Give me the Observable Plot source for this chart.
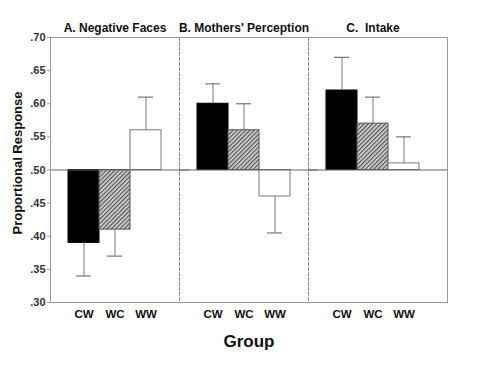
<!DOCTYPE html>
<html>
<head>
<meta charset="utf-8">
<script src="https://cdn.jsdelivr.net/npm/d3@7"></script>
<script src="https://cdn.jsdelivr.net/npm/@observablehq/plot@0.6"></script>
<style>
  html, body { margin: 0; padding: 0; background: #fff; }
  svg { font-family: "Liberation Sans", Arial, Helvetica, sans-serif; }
</style>
</head>
<body>
<div id="chart"></div>
<script>
const panels = ["A. Negative Faces", "B. Mothers' Perception", "C.  Intake"];
const groups = ["CW", "WC", "WW"];
const panelA = [0.39, 0.41, 0.56];
const panelB = [0.60, 0.56, 0.46];
const panelC = [0.62, 0.57, 0.51];
const errA = [0.34, 0.37, 0.61];
const errB = [0.63, 0.60, 0.405];
const errC = [0.67, 0.61, 0.55];
const yTicks = [0.30, 0.35, 0.40, 0.45, 0.50, 0.55, 0.60, 0.65, 0.70];
const baseline = 0.50;

const values = [panelA, panelB, panelC];
const errs = [errA, errB, errC];
const data = [];
panels.forEach((p, i) => groups.forEach((g, j) => {
  data.push({panel: p, group: g, value: values[i][j], err: errs[i][j]});
}));
const fills = {CW: "#000", WC: "url(#hatch)", WW: "#fff"};
const strokes = {CW: "#000", WC: "#555", WW: "#777"};

const chart = Plot.plot({
  width: 500,
  height: 368,
  marginLeft: 50,
  marginRight: 63,
  marginTop: 37,
  marginBottom: 66,
  fx: {domain: panels, padding: 0, label: null},
  x: {domain: groups, paddingInner: 0, paddingOuter: 0.56, label: null},
  y: {domain: [0.30, 0.70], label: null},
  marks: [
    Plot.frame({anchor: "left", stroke: "#888", strokeDasharray: "3,2"}),
    Plot.barY(data, {fx: "panel", x: "group", y1: baseline, y2: "value",
      fill: d => fills[d.group], stroke: d => strokes[d.group], strokeWidth: 1}),
    Plot.ruleX(data, {fx: "panel", x: "group", y1: "value", y2: "err", stroke: "#777", strokeWidth: 1}),
    Plot.tickY(data, {fx: "panel", x: "group", y: "err", stroke: "#777", strokeWidth: 1.2, insetLeft: 8, insetRight: 8}),
    Plot.ruleY([baseline], {stroke: "#666", insetRight: -10}),
    Plot.frame({facet: "super", stroke: "#999", insetRight: -10}),
    Plot.axisY({ticks: yTicks, tickFormat: d => d3.format(".2f")(d).replace(/^0/, ""),
      tickSize: 3, tickPadding: 2, fontSize: 11, fontWeight: "bold", fill: "#333", stroke: "#999", label: null}),
    Plot.axisX({tickSize: 0, tickPadding: 7, fontSize: 11.5, fontWeight: "bold", fill: "#111", label: null}),
    Plot.axisFx({anchor: "top", tickSize: 0, tickPadding: 6, fontSize: 12, fontWeight: "bold", fill: "#111", label: null}),
    Plot.text(["Group"], {facet: "super", frameAnchor: "bottom", dy: 44, dx: 5, fontSize: 17, fontWeight: "bold", fill: "#111"}),
    Plot.text(["Proportional Response"], {facet: "super", frameAnchor: "left", textAnchor: "middle", dx: -33, dy: -7, rotate: -90, fontSize: 13, fontWeight: "bold", fill: "#111"})
  ]
});

const defs = d3.select(chart).insert("defs", ":first-child");
const pat = defs.append("pattern").attr("id", "hatch").attr("patternUnits", "userSpaceOnUse")
  .attr("width", 3).attr("height", 3).attr("patternTransform", "rotate(45)");
pat.append("rect").attr("width", 3).attr("height", 3).attr("fill", "#d0d0d0");
pat.append("line").attr("x1", 0.6).attr("y1", 0).attr("x2", 0.6).attr("y2", 3)
  .attr("stroke", "#555").attr("stroke-width", 1.2);

document.getElementById("chart").appendChild(chart);
</script>
</body>
</html>
